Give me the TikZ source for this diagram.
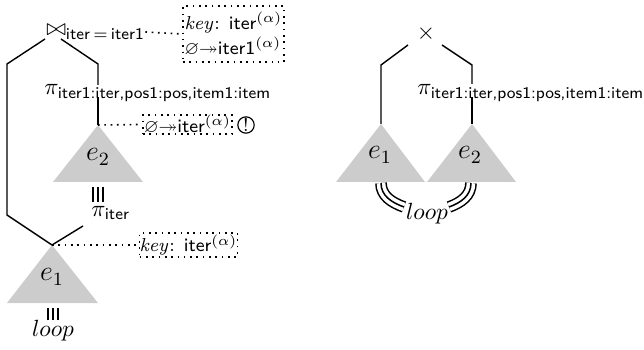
\documentclass[tikz,border=0pt]{standalone}
\usepackage{amsmath,amssymb}
\newcommand{\tarr}{\varnothing{\twoheadrightarrow}}
\begin{document}
\begin{tikzpicture}[x=0.427pt,y=-0.427pt,
  edge/.style={line width=0.6pt},
  dotl/.style={dotted,line width=0.7pt},
  tri/.style={fill=gray!40,draw=none},
  triple/.style={line width=0.65pt,preaction={draw,line width=5pt},preaction={draw=white,line width=3.7pt}},
  annot/.style={dotted,line width=0.7pt,draw,inner sep=0pt,font=\footnotesize,align=left},
  lbl/.style={inner sep=0pt},
  elbl/.style={inner sep=0pt,font=\large}]
\useasboundingbox (0,0) rectangle (644,350);
% ---------------- left plan ----------------
\node[lbl,anchor=west] (join) at (46,32) {$\bowtie_{\textsf{iter}\mkern3mu=\mkern3mu\textsf{iter1}}$};
\node[annot,minimum width={101*0.427pt},minimum height={56*0.427pt}] (b1) at (233.5,34)
  {$\mathit{key}$: \textsf{iter}$^{(\alpha)}$\\[1pt]$\tarr$\textsf{iter1}$^{(\alpha)}$};
\draw[dotl] (join.east) -- (b1.west);
\coordinate (jl) at (45,39);
\coordinate (jr) at (61,39);
\coordinate (l1) at (7,64);
\coordinate (l2) at (7,215);
\coordinate (r1) at (98,64);
\coordinate (r2) at (98,85);
\coordinate (r3) at (98,97);
\node[lbl,anchor=west] (pi1) at (44,93) {$\pi_{\textsf{iter1:iter,pos1:pos,item1:item}}$};
% e2
\coordinate (a2) at (98,125);
\coordinate (a2l) at (53,182);
\coordinate (a2r) at (143,182);
\fill[tri] (a2) -- (a2l) -- (a2r) -- cycle;
\node[elbl] (e2) at (98,157) {$e_2$};
\node[annot,minimum width={89*0.427pt},minimum height={17*0.427pt}] (b2) at (187.5,124.5)
  {$\tarr$\textsf{iter}$^{(\alpha)}$};
\draw[dotl] (a2) -- (b2.west);
\node[draw,circle,inner sep=0pt,minimum size=7pt,line width=0.5pt,font=\footnotesize] (ex) at (246,125) {!};
\coordinate (t2a) at (98,187);
\coordinate (t2b) at (98,202);
\draw[triple] (t2a) -- (t2b);
\node[lbl,anchor=west] (pi2) at (91,213) {$\pi_{\textsf{iter}}$};
% e1
\coordinate (a1) at (52,245);
\coordinate (a1l) at (7,303);
\coordinate (a1r) at (98,303);
\coordinate (pl) at (83,226);
\fill[tri] (a1) -- (a1l) -- (a1r) -- cycle;
\node[elbl] (e1) at (52,277) {$e_1$};
\node[annot,minimum width={97*0.427pt},minimum height={24*0.427pt}] (b3) at (188.5,245)
  {$\mathit{key}$: \textsf{iter}$^{(\alpha)}$};
\draw[dotl] (a1) -- (b3.west);
\coordinate (t1a) at (53,308);
\coordinate (t1b) at (53,320);
\draw[triple] (t1a) -- (t1b);
\node[lbl] (loop1) at (53,331) {$loop$};
% edges
\draw[edge] (jl) -- (l1) -- (l2) -- (a1);
\draw[edge] (jr) -- (r1) -- (r2);
\draw[edge] (r3) -- (a2);
\draw[edge] (pl) -- (a1);
% ---------------- right plan ----------------
\node[lbl] (cross) at (426,34) {$\times$};
\coordinate (cl) at (408,45);
\coordinate (cr) at (442,45);
\coordinate (c1) at (381,65);
\coordinate (c2) at (472,65);
\coordinate (c3) at (472,84);
\coordinate (c4) at (472,97);
\node[lbl,anchor=west] (pi3) at (417,93) {$\pi_{\textsf{iter1:iter,pos1:pos,item1:item}}$};
\coordinate (ra1) at (381,124);
\coordinate (ra1l) at (336,182);
\coordinate (ra1r) at (425,182);
\coordinate (ra2) at (472,124);
\coordinate (ra2l) at (427,182);
\coordinate (ra2r) at (516,182);
\fill[tri] (ra1) -- (ra1l) -- (ra1r) -- cycle;
\fill[tri] (ra2) -- (ra2l) -- (ra2r) -- cycle;
\node[elbl] (re1) at (380,155) {$e_1$};
\node[elbl] (re2) at (470,155) {$e_2$};
\draw[edge] (cl) -- (c1) -- (ra1);
\draw[edge] (cr) -- (c2) -- (c3);
\draw[edge] (c4) -- (ra2);
\node[lbl] (loop2) at (427,214) {$loop$};
\coordinate (s1) at (381,183);
\coordinate (s2) at (404,207);
\coordinate (s3) at (471,183);
\coordinate (s4) at (449,207);
\draw[triple] (s1) to[out=-90,in=160] (s2);
\draw[triple] (s3) to[out=-90,in=20] (s4);
\end{tikzpicture}
\end{document}
